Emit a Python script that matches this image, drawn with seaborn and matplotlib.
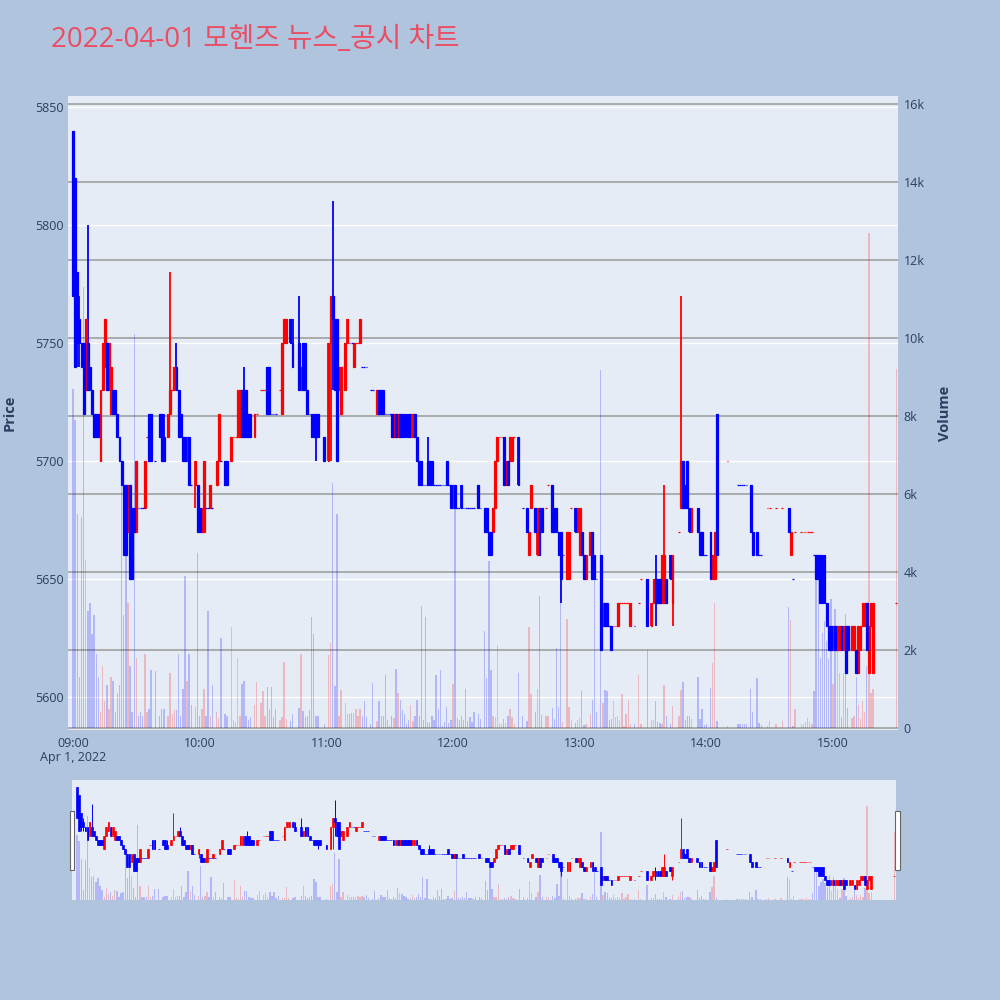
import pandas as pd
import numpy as np
import matplotlib
matplotlib.use("Agg")
import matplotlib.pyplot as plt
import matplotlib.dates as mdates
import matplotlib.transforms as mtransforms
from matplotlib.patches import Rectangle
import seaborn as sns

# 1-minute candles, minutes after 09:00 (minutes without trades are left out)
minute = [0, 1, 2, 3, 4, 5, 6, 7, 8, 9, 10, 11, 12, 13, 14, 15, 16, 17, 18, 19,
          20, 21, 22, 23, 24, 25, 26, 27, 28, 29, 30, 31, 32, 33, 34, 35, 36, 37, 39,
          41, 42, 43, 45, 46, 47, 48, 49, 50, 51, 52, 53, 54, 55, 56, 58, 59, 60, 61, 62, 63, 64, 65, 66,
          68, 69, 70, 72, 73, 75, 76, 77, 78, 79, 80, 81, 82, 83, 84, 86, 87, 89, 90, 91, 92, 93, 94, 95, 96,
          98, 99, 100, 101, 103, 104, 107, 108, 109, 110, 111, 112, 113, 114, 115, 116, 119, 121, 122, 123, 124, 125, 126, 127,
          129, 130, 131, 132, 133, 134, 135, 136, 137, 138, 139, 141, 142, 144, 145, 146, 147, 148, 149, 150, 151, 152, 153,
          154, 155, 156, 157, 158, 159, 160, 161, 162, 163, 164, 165, 166, 167, 168, 169, 170, 171, 172, 173, 174, 175, 176, 177, 178,
          179, 180, 181, 182, 183, 184, 185, 186, 187, 188, 189, 190, 192, 193, 195, 196, 197, 198, 199, 200, 201, 202, 203, 204, 205, 206, 207, 208, 209,
          211, 213, 215, 216, 217, 219, 220, 221, 222, 224, 225, 227, 228, 229, 230, 231, 232, 234, 235, 236, 238, 239, 240, 241, 242, 243, 245, 246, 247, 248,
          250, 251, 252, 253, 254, 255, 256, 257, 258, 259, 260, 261, 262, 263, 264, 266, 268, 269, 272, 274, 275, 276, 277, 278, 279, 280, 281,
          283, 284, 287, 288, 289, 290, 291, 292, 293, 296, 297, 298, 299, 300, 302, 303, 304, 305, 310, 315, 316, 317, 318, 319, 321, 322, 324, 325, 326,
          329, 330, 333, 336, 339, 340, 341, 342, 345, 346, 347, 348, 349, 350, 351, 352, 353, 354, 355, 356, 357, 358, 359, 360, 361,
          362, 363, 364, 365, 366, 367, 369, 370, 371, 372, 373, 374, 375, 376, 377, 378, 379, 390]

open_p = [5840, 5820, 5780, 5760, 5750, 5750, 5730, 5750, 5740, 5730, 5720, 5720, 5720, 5700, 5730, 5740, 5750, 5730, 5720, 5730,
          5730, 5720, 5710, 5700, 5690, 5690, 5670, 5690, 5680, 5680, 5670, 5680, 5680, 5680, 5680, 5710, 5720, 5720, 5700,
          5720, 5720, 5710, 5710, 5720, 5730, 5730, 5740, 5730, 5720, 5710, 5710, 5700, 5710, 5690, 5690, 5690, 5680, 5670, 5670, 5680, 5680, 5680, 5680,
          5690, 5700, 5700, 5700, 5700, 5700, 5710, 5710, 5710, 5710, 5730, 5730, 5730, 5720, 5720, 5710, 5720, 5730, 5730, 5730, 5740, 5740, 5720, 5720, 5720,
          5730, 5720, 5750, 5750, 5760, 5750, 5750, 5730, 5750, 5750, 5730, 5720, 5720, 5720, 5720, 5720, 5710, 5700, 5750, 5770, 5760, 5760, 5730, 5720,
          5730, 5750, 5750, 5750, 5740, 5750, 5750, 5750, 5740, 5740, 5740, 5730, 5730, 5720, 5730, 5730, 5730, 5720, 5720, 5720, 5720, 5710, 5720,
          5710, 5720, 5720, 5720, 5720, 5720, 5710, 5710, 5720, 5710, 5700, 5700, 5690, 5690, 5700, 5700, 5700, 5690, 5690, 5690, 5690, 5690, 5690, 5700, 5690,
          5690, 5680, 5690, 5680, 5680, 5690, 5680, 5680, 5680, 5680, 5680, 5680, 5690, 5680, 5680, 5680, 5670, 5670, 5670, 5680, 5700, 5710, 5710, 5710, 5690, 5700, 5700, 5700, 5710,
          5710, 5680, 5680, 5660, 5680, 5680, 5660, 5680, 5680, 5680, 5690, 5690, 5680, 5680, 5670, 5670, 5660, 5650, 5650, 5680, 5680, 5670, 5660, 5670, 5660, 5650, 5660, 5670, 5660, 5650,
          5660, 5630, 5640, 5640, 5630, 5630, 5630, 5630, 5630, 5640, 5640, 5640, 5640, 5640, 5630, 5630, 5640, 5650, 5650, 5630, 5640, 5650, 5650, 5650, 5640, 5640, 5650,
          5660, 5640, 5670, 5680, 5700, 5690, 5700, 5680, 5670, 5680, 5670, 5670, 5660, 5660, 5670, 5650, 5650, 5720, 5700, 5690, 5690, 5690, 5690, 5690, 5690, 5670, 5670, 5660, 5660,
          5680, 5680, 5680, 5680, 5680, 5660, 5650, 5670, 5670, 5670, 5670, 5670, 5670, 5670, 5660, 5660, 5660, 5660, 5660, 5660, 5640, 5630, 5630, 5620, 5630,
          5620, 5620, 5630, 5620, 5630, 5630, 5620, 5620, 5620, 5610, 5620, 5630, 5630, 5640, 5610, 5630, 5610, 5640]

high_p = [5840, 5820, 5780, 5770, 5750, 5750, 5760, 5800, 5740, 5730, 5720, 5720, 5720, 5730, 5750, 5760, 5750, 5750, 5740, 5730,
          5730, 5720, 5710, 5700, 5690, 5690, 5690, 5690, 5680, 5680, 5700, 5680, 5680, 5680, 5700, 5710, 5720, 5720, 5700,
          5720, 5720, 5720, 5720, 5780, 5730, 5740, 5750, 5730, 5720, 5710, 5710, 5710, 5710, 5690, 5700, 5690, 5680, 5680, 5700, 5680, 5680, 5690, 5680,
          5700, 5720, 5700, 5700, 5700, 5710, 5710, 5710, 5730, 5730, 5730, 5740, 5730, 5720, 5720, 5720, 5720, 5730, 5730, 5730, 5740, 5740, 5720, 5720, 5720,
          5730, 5750, 5760, 5760, 5760, 5760, 5770, 5740, 5750, 5750, 5730, 5720, 5720, 5720, 5720, 5720, 5710, 5750, 5770, 5810, 5760, 5760, 5740, 5740,
          5750, 5760, 5750, 5750, 5750, 5750, 5750, 5760, 5740, 5740, 5740, 5730, 5730, 5730, 5730, 5730, 5730, 5720, 5720, 5720, 5720, 5720, 5720,
          5720, 5720, 5720, 5720, 5720, 5720, 5720, 5720, 5720, 5710, 5700, 5700, 5690, 5690, 5710, 5700, 5700, 5690, 5690, 5690, 5690, 5690, 5690, 5700, 5690,
          5690, 5690, 5690, 5680, 5680, 5690, 5680, 5680, 5680, 5680, 5680, 5680, 5690, 5680, 5680, 5680, 5670, 5670, 5680, 5700, 5710, 5710, 5710, 5710, 5700, 5700, 5710, 5710, 5710,
          5710, 5680, 5680, 5670, 5690, 5680, 5680, 5680, 5680, 5680, 5690, 5690, 5680, 5680, 5670, 5670, 5660, 5670, 5670, 5680, 5680, 5680, 5680, 5670, 5660, 5660, 5670, 5670, 5660, 5650,
          5660, 5640, 5640, 5640, 5630, 5630, 5630, 5630, 5640, 5640, 5640, 5640, 5640, 5640, 5640, 5630, 5640, 5650, 5650, 5640, 5650, 5660, 5650, 5650, 5660, 5690, 5650,
          5660, 5660, 5670, 5770, 5700, 5690, 5700, 5680, 5680, 5680, 5670, 5670, 5660, 5660, 5670, 5660, 5670, 5720, 5700, 5690, 5690, 5690, 5690, 5690, 5690, 5670, 5670, 5660, 5660,
          5680, 5680, 5680, 5680, 5680, 5670, 5650, 5670, 5670, 5670, 5670, 5670, 5670, 5670, 5660, 5660, 5660, 5660, 5660, 5660, 5640, 5630, 5630, 5630, 5630,
          5630, 5630, 5630, 5630, 5630, 5630, 5630, 5630, 5620, 5630, 5630, 5640, 5640, 5640, 5630, 5640, 5640, 5640]

low_p = [5770, 5740, 5740, 5740, 5740, 5720, 5730, 5730, 5730, 5720, 5710, 5710, 5710, 5700, 5730, 5740, 5730, 5730, 5720, 5720,
         5720, 5710, 5700, 5690, 5660, 5660, 5670, 5650, 5650, 5670, 5670, 5680, 5680, 5680, 5680, 5710, 5700, 5700, 5700,
         5710, 5700, 5700, 5710, 5720, 5730, 5730, 5730, 5710, 5710, 5700, 5700, 5700, 5690, 5690, 5680, 5670, 5670, 5670, 5670, 5680, 5680, 5680, 5680,
         5690, 5700, 5700, 5690, 5690, 5700, 5710, 5710, 5710, 5710, 5710, 5710, 5710, 5710, 5710, 5710, 5720, 5730, 5730, 5730, 5720, 5720, 5720, 5720, 5720,
         5730, 5720, 5750, 5750, 5750, 5740, 5730, 5730, 5730, 5730, 5720, 5720, 5710, 5710, 5700, 5710, 5700, 5700, 5700, 5730, 5730, 5700, 5730, 5720,
         5730, 5750, 5750, 5750, 5740, 5750, 5750, 5750, 5740, 5740, 5740, 5730, 5730, 5720, 5720, 5720, 5720, 5720, 5720, 5720, 5710, 5710, 5710,
         5710, 5710, 5710, 5710, 5710, 5710, 5710, 5710, 5710, 5700, 5690, 5690, 5690, 5690, 5690, 5690, 5690, 5690, 5690, 5690, 5690, 5690, 5690, 5690, 5690,
         5680, 5680, 5680, 5680, 5680, 5680, 5680, 5680, 5680, 5680, 5680, 5680, 5680, 5680, 5670, 5670, 5660, 5660, 5670, 5680, 5700, 5710, 5710, 5690, 5690, 5690, 5700, 5700, 5710,
         5690, 5680, 5670, 5660, 5680, 5670, 5660, 5660, 5670, 5680, 5690, 5670, 5670, 5670, 5660, 5640, 5660, 5650, 5650, 5680, 5670, 5670, 5660, 5660, 5650, 5650, 5660, 5650, 5650, 5650,
         5620, 5630, 5630, 5630, 5630, 5620, 5630, 5630, 5630, 5640, 5640, 5640, 5640, 5640, 5630, 5630, 5640, 5650, 5630, 5630, 5640, 5630, 5640, 5640, 5640, 5640, 5640,
         5650, 5630, 5670, 5680, 5680, 5680, 5680, 5670, 5670, 5670, 5660, 5660, 5660, 5660, 5650, 5650, 5650, 5660, 5700, 5690, 5690, 5690, 5690, 5690, 5670, 5660, 5660, 5660, 5660,
         5680, 5680, 5680, 5680, 5670, 5660, 5650, 5670, 5670, 5670, 5670, 5670, 5670, 5670, 5660, 5650, 5650, 5640, 5640, 5640, 5630, 5620, 5620, 5620, 5620,
         5620, 5620, 5620, 5620, 5610, 5620, 5620, 5620, 5610, 5610, 5620, 5630, 5630, 5620, 5610, 5630, 5610, 5640]

close_p = [5770, 5740, 5750, 5750, 5740, 5720, 5760, 5730, 5730, 5720, 5710, 5710, 5710, 5730, 5750, 5760, 5730, 5750, 5740, 5720,
           5720, 5710, 5700, 5690, 5660, 5660, 5690, 5650, 5650, 5670, 5700, 5680, 5680, 5680, 5700, 5710, 5700, 5700, 5700,
           5710, 5700, 5700, 5720, 5730, 5730, 5740, 5730, 5710, 5710, 5700, 5700, 5710, 5690, 5690, 5700, 5670, 5670, 5680, 5700, 5680, 5680, 5690, 5680,
           5700, 5720, 5700, 5690, 5690, 5710, 5710, 5710, 5730, 5730, 5710, 5710, 5710, 5710, 5710, 5720, 5720, 5730, 5730, 5730, 5720, 5720, 5720, 5720, 5720,
           5730, 5750, 5760, 5760, 5750, 5740, 5730, 5740, 5730, 5730, 5720, 5720, 5710, 5710, 5710, 5710, 5700, 5750, 5770, 5760, 5730, 5700, 5740, 5740,
           5750, 5760, 5750, 5750, 5750, 5750, 5750, 5760, 5740, 5740, 5740, 5730, 5730, 5730, 5720, 5720, 5720, 5720, 5720, 5720, 5710, 5720, 5710,
           5720, 5710, 5710, 5710, 5710, 5710, 5720, 5720, 5710, 5700, 5690, 5690, 5690, 5690, 5690, 5690, 5690, 5690, 5690, 5690, 5690, 5690, 5690, 5690, 5690,
           5680, 5690, 5680, 5680, 5680, 5680, 5680, 5680, 5680, 5680, 5680, 5680, 5680, 5680, 5670, 5670, 5660, 5660, 5680, 5700, 5710, 5710, 5710, 5690, 5700, 5690, 5710, 5710, 5710,
           5690, 5680, 5670, 5670, 5690, 5670, 5680, 5660, 5670, 5680, 5690, 5670, 5670, 5670, 5660, 5650, 5660, 5670, 5670, 5680, 5670, 5680, 5680, 5660, 5650, 5660, 5670, 5650, 5650, 5650,
           5620, 5640, 5630, 5630, 5630, 5620, 5630, 5630, 5640, 5640, 5640, 5640, 5640, 5640, 5640, 5630, 5640, 5650, 5630, 5640, 5650, 5640, 5640, 5640, 5660, 5660, 5640,
           5650, 5660, 5670, 5700, 5680, 5680, 5680, 5670, 5680, 5670, 5660, 5660, 5660, 5660, 5650, 5660, 5670, 5660, 5700, 5690, 5690, 5690, 5690, 5690, 5670, 5660, 5660, 5660, 5660,
           5680, 5680, 5680, 5680, 5670, 5670, 5650, 5670, 5670, 5670, 5670, 5670, 5670, 5670, 5660, 5650, 5650, 5640, 5640, 5640, 5630, 5620, 5620, 5630, 5620,
           5630, 5630, 5620, 5630, 5610, 5620, 5630, 5630, 5610, 5630, 5630, 5640, 5640, 5620, 5630, 5640, 5640, 5640]

volume = [8700, 7900, 5500, 1300, 5400, 11300, 4300, 3000, 3200, 2400, 2900, 1900, 1300, 400, 1600, 700, 1100, 500, 1300, 1200,
          400, 900, 1100, 6200, 2900, 5000, 3200, 1600, 400, 10100, 1800, 300, 400, 300, 1900, 400, 500, 1500, 1450,
          300, 500, 500, 300, 1400, 350, 450, 450, 1900, 300, 1000, 3900, 1200, 1900, 600, 550, 4500, 300, 500, 1000, 300, 3000, 300, 1100,
          400, 250, 2300, 350, 300, 2600, 200, 150, 1800, 300, 1140, 1200, 300, 200, 270, 580, 1170, 630, 940, 300, 1040, 500, 1040, 270, 500,
          200, 270, 1700, 220, 170, 370, 510, 1900, 440, 270, 300, 450, 2850, 2400, 300, 300, 100, 1860, 2170, 6270, 1070, 5500, 300, 970,
          630, 370, 370, 390, 390, 500, 320, 500, 300, 680, 270, 110, 1160, 190, 680, 300, 300, 1350, 200, 60, 300, 250, 1520,
          900, 710, 450, 370, 100, 200, 600, 190, 300, 730, 300, 3130, 200, 2840, 150, 130, 320, 200, 1350, 500, 1500, 60, 150, 550, 130,
          200, 1140, 5780, 260, 200, 300, 200, 1000, 180, 270, 150, 400, 370, 220, 2480, 1270, 4280, 1500, 320, 290, 2140, 130, 100, 220, 130, 310, 490, 270, 100,
          1400, 310, 190, 2580, 860, 420, 990, 3380, 340, 310, 320, 510, 220, 2050, 550, 4130, 160, 2800, 530, 200, 130, 200, 250, 960, 90, 110, 350, 730, 3970, 420,
          9170, 630, 980, 960, 210, 240, 680, 270, 320, 200, 870, 60, 350, 730, 100, 100, 1350, 100, 2000, 210, 210, 700, 150, 130, 100, 1090, 300,
          100, 560, 300, 970, 1170, 200, 320, 320, 230, 1300, 230, 480, 80, 100, 1020, 1660, 3200, 170, 60, 100, 100, 100, 100, 100, 1010, 400, 1280, 130, 90,
          60, 170, 100, 170, 3100, 2770, 60, 480, 100, 100, 150, 250, 150, 100, 960, 4400, 3850, 1800, 2430, 2740, 2220, 1760, 3300, 1140, 3050,
          2220, 1400, 270, 1400, 2920, 525, 250, 300, 1300, 580, 220, 680, 400, 1600, 12700, 890, 990, 9200]

price_ticks = [5600, 5650, 5700, 5750, 5800, 5850]
volume_ticks = [0, 2000, 4000, 6000, 8000, 10000, 12000, 14000, 16000]
volume_labels = ["0", "2k", "4k", "6k", "8k", "10k", "12k", "14k", "16k"]
hour_labels = ["09:00", "10:00", "11:00", "12:00", "13:00", "14:00", "15:00"]

lens = {len(minute), len(open_p), len(high_p), len(low_p), len(close_p), len(volume)}
if len(lens) != 1:
    raise ValueError([len(minute), len(open_p), len(high_p), len(low_p), len(close_p), len(volume)])

sns.set_theme(style="white")
plt.rcParams['font.family'] = ['Open Sans', 'Noto Sans CJK KR', 'DejaVu Sans']

TEXT = "#2a3f5f"
PLOT_BG = "#e5ecf6"
start = pd.Timestamp("2022-04-01 09:00")

df = pd.DataFrame({"minute": minute, "open": open_p, "high": high_p,
                   "low": low_p, "close": close_p, "volume": volume})
df["time"] = start + pd.to_timedelta(df["minute"], unit="min")
df["x"] = mdates.date2num(df["time"])

# increasing / decreasing like plotly: flat candles follow the previous close
up = []
prev_c, last = None, True
for o, c in zip(df["open"], df["close"]):
    if c > o:
        d = True
    elif c < o:
        d = False
    elif prev_c is not None and c != prev_c:
        d = c > prev_c
    else:
        d = last
    up.append(d)
    last, prev_c = d, c
df["up"] = up

one_min = 1 / 1440
xlim = (mdates.date2num(start - pd.Timedelta(minutes=2.4)),
        mdates.date2num(start + pd.Timedelta(minutes=390.8)))
price_lim = (5586, 5854.7)
vol_lim = (-51, 16205)


def draw(ax, axv, wick_lw, body_lw, vol_alpha):
    for is_up, col in [(True, "#ff0000"), (False, "#0000ff")]:
        d = df[df["up"] == is_up]
        ax.vlines(d["x"], d["low"], d["high"], color=col, lw=wick_lw, zorder=3)
        ax.bar(d["x"], (d["close"] - d["open"]).abs(), bottom=d[["open", "close"]].min(axis=1),
               width=0.85 * one_min, color=col, edgecolor=col, linewidth=body_lw, zorder=4)
        axv.bar(d["x"], d["volume"], width=0.65 * one_min, color=col, alpha=vol_alpha,
                linewidth=0, zorder=2)
    ax.set_xlim(*xlim)
    ax.set_ylim(*price_lim)
    axv.set_ylim(*vol_lim)
    for a in (ax, axv):
        for s in a.spines.values():
            s.set_visible(False)


fig = plt.figure(figsize=(10, 10), dpi=100, facecolor="#b0c4de")

# main chart
ax = fig.add_axes([0.068, 0.270, 0.830, 0.634], facecolor=PLOT_BG)
axv = ax.twinx()
draw(ax, axv, 1.3, 0.9, 0.22)

ax.set_axisbelow(True)
ax.grid(axis="y", color="white", lw=1.0)
ax.grid(axis="x", visible=False)
axv.grid(False)
blend = mtransforms.blended_transform_factory(ax.transAxes, axv.transData)
for v in volume_ticks:
    ax.plot([0, 1], [v, v], transform=blend, color="#a0a0a0", lw=1.2, zorder=1.5)

ax.set_yticks(price_ticks)
ax.set_yticklabels([str(p) for p in price_ticks])
axv.set_yticks(volume_ticks)
axv.set_yticklabels(volume_labels)
hour_x = mdates.date2num([start + pd.Timedelta(hours=h) for h in range(len(hour_labels))])
ax.set_xticks(hour_x)
ax.set_xticklabels(hour_labels)
ax.tick_params(axis="both", length=0, labelsize=9, colors=TEXT, pad=3)
ax.tick_params(axis="x", pad=5)
axv.tick_params(axis="y", length=0, labelsize=9, colors=TEXT, pad=4)

# range slider
sl = fig.add_axes([0.072, 0.100, 0.824, 0.120], facecolor=PLOT_BG)
slv = sl.twinx()
draw(sl, slv, 0.7, 0.5, 0.22)
for a in (sl, slv):
    a.set_xticks([])
    a.set_yticks([])
    a.grid(False)
for hx in (0.0695, 0.8950):
    fig.add_artist(Rectangle((hx, 0.130), 0.0045, 0.059, transform=fig.transFigure,
                             facecolor="white", edgecolor="#666666", lw=0.8))

# texts
fig.text(0.051, 0.960, "2022-04-01 모헨즈 뉴스_공시 차트", fontsize=20, color="#e94e64",
         ha="left", va="center")
fig.text(0.073, 0.242, "Apr 1, 2022", fontsize=9, color=TEXT, ha="center", va="center")
fig.text(0.010, 0.587, "Price", fontsize=10.5, fontweight="bold", color=TEXT,
         rotation=90, ha="center", va="center")
fig.text(0.945, 0.587, "Volume", fontsize=10.5, fontweight="bold", color=TEXT,
         rotation=90, ha="center", va="center")

fig.savefig("out.png", dpi=100, facecolor=fig.get_facecolor())
